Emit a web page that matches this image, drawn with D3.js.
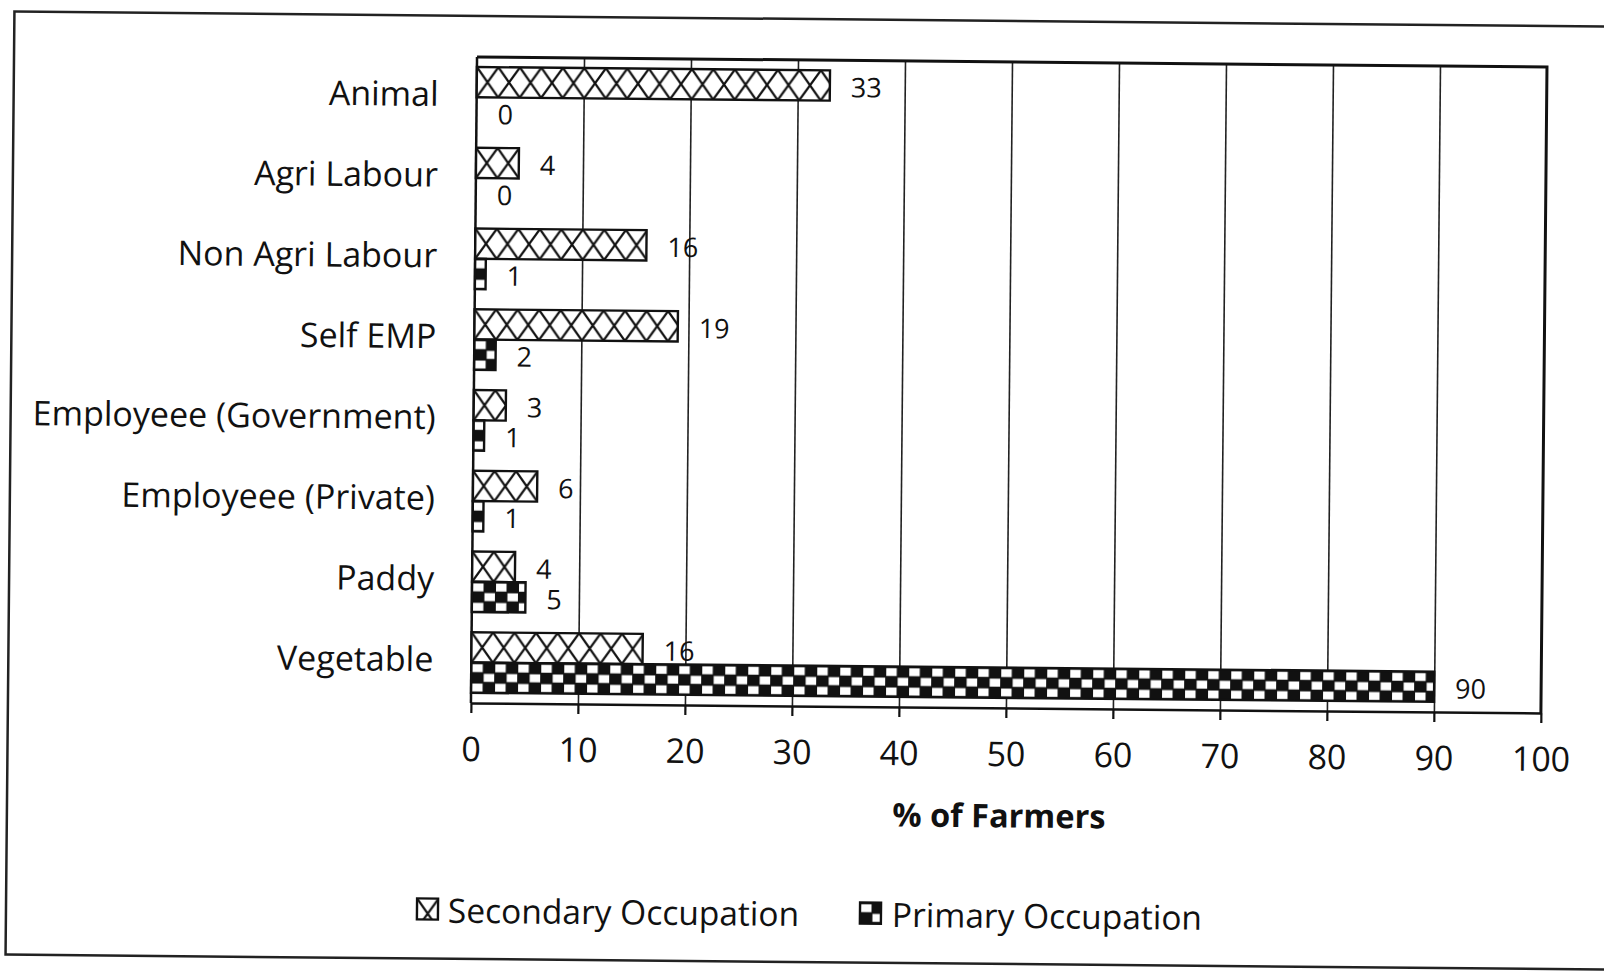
<!DOCTYPE html>
<html>
<head>
<meta charset="utf-8">
<script src="https://cdn.jsdelivr.net/npm/d3@7"></script>
<style>
  html, body { margin: 0; padding: 0; background: #fff; }
  svg { display: block; }
  text { font-family: "Open Sans", sans-serif; fill: #111; }
</style>
</head>
<body>
<svg id="chart" width="1604" height="972"></svg>
<script>
const categories = ['Animal', 'Agri Labour', 'Non Agri Labour', 'Self EMP',
  'Employeee (Government)', 'Employeee (Private)', 'Paddy', 'Vegetable'];
const secondary = [33, 4, 16, 19, 3, 6, 4, 16];
const primary = [0, 0, 1, 2, 1, 1, 5, 90];
const seriesNames = ['Secondary Occupation', 'Primary Occupation'];
const xTicks = d3.range(0, 101, 10);

const svg = d3.select('#chart');
const margin = { left: 473, right: 1543, top: 60, bottom: 706 };

// the scanned figure sits a little tilted
const root = svg.append('g').attr('transform', 'rotate(0.54,800,486)');

// outer frame
root.append('rect')
  .attr('x', 10).attr('y', 19)
  .attr('width', 1640).attr('height', 943)
  .attr('fill', 'none').attr('stroke', '#222').attr('stroke-width', 2.5);

const x = d3.scaleLinear().domain([0, 100]).range([margin.left, margin.right]);
const y = d3.scaleBand().domain(categories)
  .range([margin.top, margin.bottom])
  .paddingInner(0.25).paddingOuter(0.125);
const barH = y.bandwidth() / 2;

// patterns
const defs = svg.append('defs');
const hatchW = 21.5;
const hatch = defs.append('pattern')
  .attr('id', 'hatch').attr('patternUnits', 'userSpaceOnUse')
  .attr('width', hatchW).attr('height', barH);
hatch.append('rect').attr('width', hatchW).attr('height', barH).attr('fill', '#fff');
hatch.append('path')
  .attr('d', `M0,0L${hatchW},${barH}M${hatchW},0L0,${barH}`)
  .attr('stroke', '#111').attr('stroke-width', 2.2).attr('fill', 'none');

const check = defs.append('pattern')
  .attr('id', 'check').attr('patternUnits', 'userSpaceOnUse')
  .attr('width', 23).attr('height', 19.5);
check.append('rect').attr('width', 23).attr('height', 19.5).attr('fill', '#111');
check.append('rect').attr('x', 1).attr('y', 1.5).attr('width', 10.5).attr('height', 8).attr('fill', '#fff');
check.append('rect').attr('x', 12.5).attr('y', 11.2).attr('width', 10.5).attr('height', 8).attr('fill', '#fff');

// grid lines
root.append('g')
  .attr('transform', `translate(0,${margin.top})`)
  .call(d3.axisBottom(x).tickValues(xTicks.slice(1, -1))
    .tickSize(margin.bottom - margin.top).tickFormat(''))
  .call(g => g.select('.domain').remove())
  .call(g => g.selectAll('line').attr('stroke', '#222').attr('stroke-width', 1.6));

// frame of the plot
root.append('path')
  .attr('d', `M${margin.left},${margin.top}H${margin.right}V${margin.bottom}`)
  .attr('fill', 'none').attr('stroke', '#111').attr('stroke-width', 3);
root.append('line')
  .attr('x1', margin.left).attr('x2', margin.left)
  .attr('y1', margin.top).attr('y2', margin.bottom)
  .attr('stroke', '#111').attr('stroke-width', 2.5);

// x axis
const xAxis = root.append('g')
  .attr('transform', `translate(0,${margin.bottom})`)
  .call(d3.axisBottom(x).tickValues(xTicks).tickSizeInner(10).tickSizeOuter(0).tickPadding(24));
xAxis.select('.domain').attr('stroke', '#111').attr('stroke-width', 2.5);
xAxis.selectAll('line').attr('stroke', '#111').attr('stroke-width', 2.2);
xAxis.selectAll('text')
  .style('font-family', '"Open Sans", sans-serif')
  .style('font-size', '34px').attr('fill', '#111');

root.append('text')
  .attr('x', (margin.left + margin.right) / 2 - 6)
  .attr('y', 813)
  .attr('text-anchor', 'middle').attr('dominant-baseline', 'central')
  .style('font-size', '32.5px').style('font-weight', 'bold')
  .text('% of Farmers');

// category labels
root.append('g').selectAll('text')
  .data(categories)
  .join('text')
  .attr('x', margin.left - 38)
  .attr('y', d => y(d) + y.bandwidth() / 2 - 4)
  .attr('text-anchor', 'end').attr('dominant-baseline', 'central')
  .style('font-size', '34px')
  .text(d => d);

// bars
const rows = categories.map((c, i) => ({ c, sec: secondary[i], pri: primary[i] }));
const series = [
  { key: 'sec', off: 0, fill: 'url(#hatch)' },
  { key: 'pri', off: barH, fill: 'url(#check)' }
];
series.forEach(s => {
  const g = root.append('g');
  const bar = g.selectAll('g')
    .data(rows)
    .join('g')
    .attr('transform', d => `translate(${x(0)},${y(d.c) + s.off})`);
  bar.filter(d => d[s.key] > 0).append('rect')
    .attr('width', d => x(d[s.key]) - x(0))
    .attr('height', barH)
    .attr('fill', s.fill)
    .attr('stroke', '#111').attr('stroke-width', 2.4);
  bar.append('text')
    .attr('x', d => x(d[s.key]) - x(0) + 21)
    .attr('y', barH / 2 + 1)
    .attr('dominant-baseline', 'central')
    .style('font-size', '27px')
    .text(d => d[s.key]);
});

// legend
const legend = root.append('g');
const legendItems = [
  { name: seriesNames[0], fill: 'url(#hatch)', sx: 421, tx: 452 },
  { name: seriesNames[1], fill: 'url(#check)', sx: 864, tx: 896 }
];
const li = legend.selectAll('g')
  .data(legendItems)
  .join('g')
  .attr('transform', d => `translate(${d.sx},902)`);
li.append('rect')
  .attr('width', 21).attr('height', 21)
  .attr('fill', d => d.fill)
  .attr('stroke', '#111').attr('stroke-width', 2.4);
li.append('text')
  .attr('x', d => d.tx - d.sx)
  .attr('y', 11)
  .attr('dominant-baseline', 'central')
  .style('font-size', '33.5px')
  .text(d => d.name);
</script>
</body>
</html>
